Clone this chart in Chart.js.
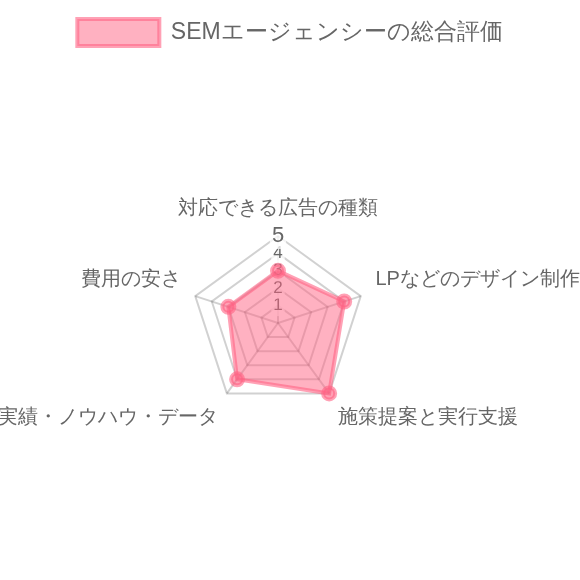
<!DOCTYPE html>
<html>
<head>
<meta charset="utf-8">
<script src="https://cdn.jsdelivr.net/npm/chart.js@4.4.0/dist/chart.umd.min.js"></script>
<style>
  html, body { margin: 0; padding: 0; background: #fff; }
  #wrap { width: 580px; height: 580px; }
</style>
</head>
<body>
<div id="wrap"><canvas id="radar"></canvas></div>
<script>
// axis names
const labels = ["対応できる広告の種類", "LPなどのデザイン制作", "施策提案と実行支援", "実績・ノウハウ・データ", "費用の安さ"];

// scores (1-5)
const scores = [3, 4, 5, 4, 3];

const seriesName = "SEMエージェンシーの総合評価";
const tickValues = [1, 2, 3, 4, 5];

const ctx = document.getElementById('radar');

let myChart = new Chart(ctx, {
    type: "radar",
    data: {
        labels: labels,
        datasets: [{
            label: seriesName,
            data: scores,
            backgroundColor: "rgba(255, 99, 132, 0.5)",
            borderColor: "rgba(255, 99, 132, 0.6)",
            borderWidth: 4,
            pointBackgroundColor: "rgba(255, 99, 132, 0.6)",
            pointBorderColor: "rgba(255, 99, 132, 0.6)",
            pointRadius: 6,
        }],
    },
    options: {
        responsive: true,
        maintainAspectRatio: false,
        animation: false,
        layout: {
            padding: { top: 0, bottom: 86, left: 0, right: 0 },
        },
        plugins: {
            legend: {
                labels: {
                    color: "#666",
                    boxWidth: 82,
                    boxHeight: 27,
                    padding: 19,
                    font: { size: 23 },
                },
            },
            // empty title used as a spacer under the legend
            title: {
                display: true,
                text: "",
                weight: 500,
                font: { size: 12 },
                padding: { top: 0, bottom: 54 },
            },
            tooltip: { enabled: false },
        },
        scales: {
            r: {
                min: 0,
                max: 5,
                grid: { color: "rgba(0,0,0,0.18)", lineWidth: 2 },
                angleLines: { color: "rgba(0,0,0,0.18)", lineWidth: 2 },
                pointLabels: { color: "#666", font: { size: 20 } },
                ticks: {
                    stepSize: 1,
                    color: "#666",
                    // bigger label for the top score
                    font: (c) => ({ size: c.tick && c.tick.value === 5 ? 22 : 17 }),
                    callback: (v) => tickValues.includes(v) ? v : "",
                },
            },
        },
    },
});
</script>
</body>
</html>
